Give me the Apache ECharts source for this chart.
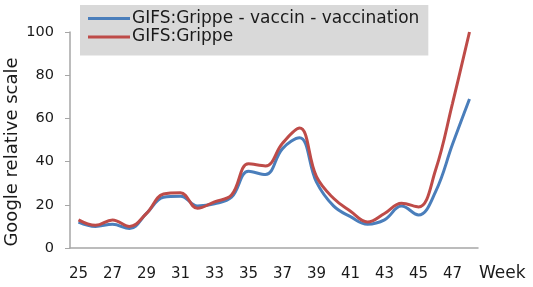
<!DOCTYPE html>
<html>
<head>
<meta charset="utf-8">
<script src="https://cdn.jsdelivr.net/npm/echarts@6/dist/echarts.min.js"></script>
<style>
  html, body { margin: 0; padding: 0; background: #fff; }
  #chart { width: 533px; height: 287px; }
</style>
</head>
<body>
<div id="chart"></div>
<script>
// Google Insights for Search: weekly relative interest
const weeks = ['25', '26', '27', '28', '29', '30', '31', '32', '33', '34', '35', '36',
  '37', '38', '39', '40', '41', '42', '43', '44', '45', '46', '47', '48'];
const vaccinValues = [12, 10, 11, 9, 16, 23.5, 24, 19.5, 20.5, 23.5, 35.5, 34,
  46, 51, 30.5, 19.5, 14.5, 11, 13, 19.4, 15.3, 26, 48, 69];
const grippeValues = [13, 10.5, 13, 10, 16, 25, 25.6, 18.4, 21.4, 24.5, 39, 38,
  48.5, 55.5, 33, 23, 17, 12, 16, 20.7, 19, 36, 67, 100];
const yTicks = [0, 20, 40, 60, 80, 100];

const font = 'DejaVu Sans';
const chart = echarts.init(document.getElementById('chart'));

chart.setOption({
  animation: false,
  textStyle: { fontFamily: font },
  grid: { left: 70, right: 55, top: 32, bottom: 39 },
  legend: {
    orient: 'vertical',
    left: 80,
    top: 5,
    padding: [5, 9, 10, 8],
    backgroundColor: '#d9d9d9',
    itemWidth: 42,
    itemHeight: 3,
    itemGap: 1.5,
    icon: 'rect',
    textStyle: { fontFamily: font, fontSize: 17, color: '#1a1a1a', padding: [0, 0, 0, -3] },
    data: ['GIFS:Grippe - vaccin - vaccination', 'GIFS:Grippe']
  },
  graphic: [{
    type: 'text',
    x: 12,
    y: 152,
    rotation: Math.PI / 2,
    style: {
      text: 'Google relative scale',
      fontFamily: font,
      fontSize: 18,
      fill: '#1a1a1a',
      align: 'center',
      verticalAlign: 'middle'
    }
  }],
  xAxis: {
    type: 'category',
    data: weeks,
    boundaryGap: true,
    name: 'Week',
    nameLocation: 'end',
    nameGap: 1,
    nameTextStyle: { fontFamily: font, fontSize: 17, color: '#1a1a1a', verticalAlign: 'top', padding: [17, 0, 0, 0] },
    axisLine: { lineStyle: { color: '#a6a6a6', width: 1.5 } },
    axisTick: { interval: 0, length: 5, lineStyle: { color: '#a6a6a6' } },
    axisLabel: { interval: 1, fontSize: 15, color: '#1a1a1a', margin: 19 }
  },
  yAxis: {
    type: 'value',
    min: 0,
    max: 100,
    interval: 20,
    axisLine: { show: true, lineStyle: { color: '#a6a6a6', width: 1.5 } },
    axisTick: { show: true, length: 5, lineStyle: { color: '#a6a6a6' } },
    splitLine: { show: false },
    axisLabel: {
      fontSize: 14.5, color: '#1a1a1a', margin: 16,
      formatter: v => yTicks.includes(v) ? String(v) : ''
    }
  },
  series: [
    {
      name: 'GIFS:Grippe - vaccin - vaccination',
      type: 'line',
      data: vaccinValues,
      smooth: 0.4,
      symbol: 'none',
      itemStyle: { color: '#4a7ebb' },
      lineStyle: { color: '#4a7ebb', width: 3 }
    },
    {
      name: 'GIFS:Grippe',
      type: 'line',
      data: grippeValues,
      smooth: 0.4,
      symbol: 'none',
      itemStyle: { color: '#be4b48' },
      lineStyle: { color: '#be4b48', width: 3 }
    }
  ]
});
</script>
</body>
</html>
